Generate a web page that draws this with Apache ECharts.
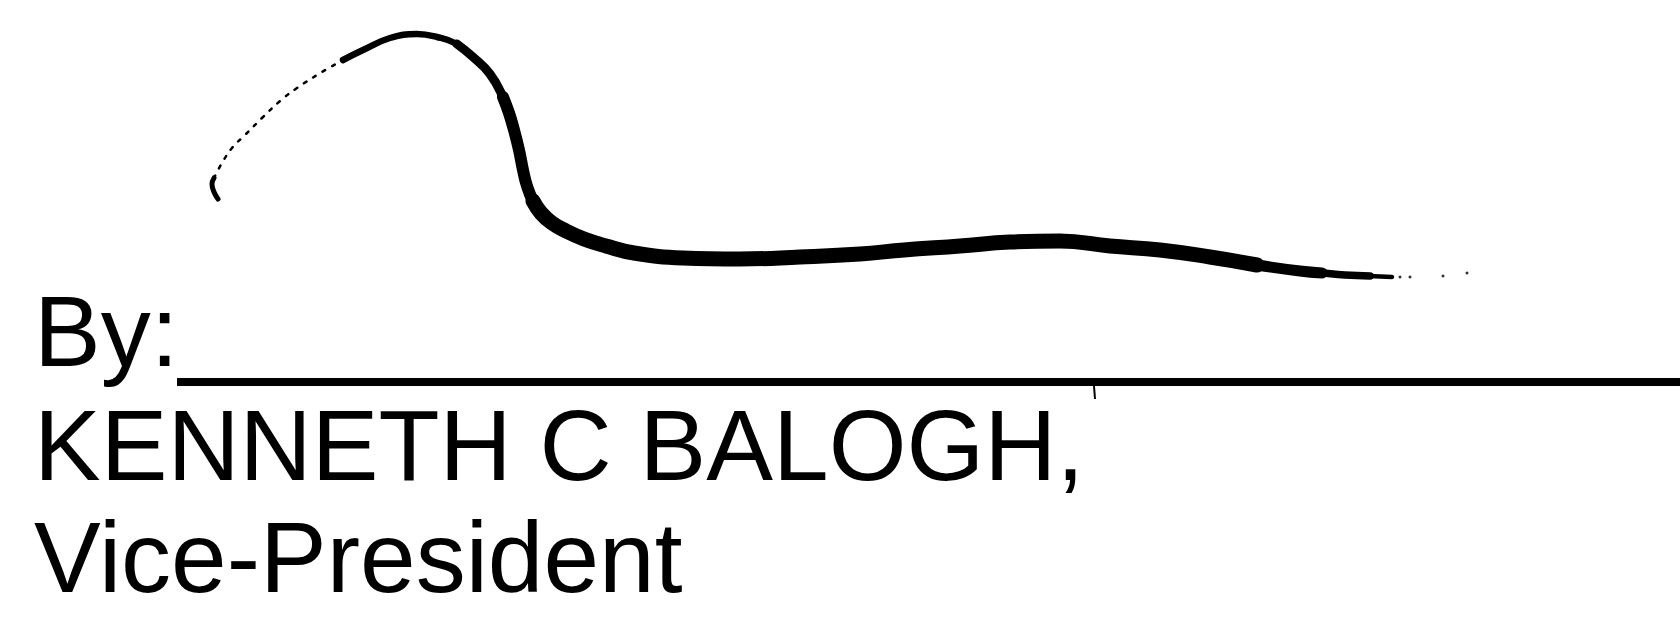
<!DOCTYPE html>
<html>
<head>
<meta charset="utf-8">
<script src="https://cdn.jsdelivr.net/npm/echarts@6/dist/echarts.min.js"></script>
<style>
html,body{margin:0;padding:0;background:#fff;}
#c{width:1680px;height:619px;}
</style>
</head>
<body>
<div id="c"></div>
<script>
// Signature stroke (x, y in page units; y grows downward)
var strokeStartBlob = [[218,199],[214,192],[212,184],[214,178]];
var strokeRise = [[214,178],[222,163],[232,148],[245,135],[263,117],[280,101],[297,88],[322,72],[343,60]];
var strokePeak = [[343,60],[363,50],[390,38],[417,34],[437,37],[457,44],[473,57]];
var strokeShoulder = [[457,44],[473,57],[490,74],[503,97],[509,113]];
var strokeDescent = [[503,97],[509,113],[514,130],[519,150],[523,170],[527,186],[533,201],[541,213]];
var strokeBottom = [[533,201],[541,213],[552,223],[566,231],[584,239],[606,246],[634,253],[683,258],[740,259],[800,257],[860,254],[904,250],[960,246],[1010,242],[1060,241],[1110,246],[1160,250],[1210,257],[1257,265]];
var strokeTaper = [[1210,257],[1257,265],[1300,271],[1322,273]];
var strokeTail = [[1300,271],[1322,273],[1345,275],[1370,276]];
var strokeTailEnd = [[1345,275],[1370,276],[1392,277]];
var strokeSpecks = [[1400,277],[1410,277],[1443,276],[1467,273]];
// Signature rule and its small tick
var ruleLine = [[177,382],[1680,382]];
var ruleTick = [[1094,386],[1095,399]];
// Printed lines
var textLines = ['By:', 'KENNETH C BALOGH,', 'Vice-President'];

var chart = echarts.init(document.getElementById('c'), null, {renderer: 'svg'});

function seg(data, width, type) {
  return {
    type: 'line', data: data, smooth: 0.45, symbol: 'none', silent: true,
    lineStyle: {color: '#000', width: width, cap: 'round', join: 'round', type: type || 'solid'},
    z: 3
  };
}

var textTop = [281, 395, 507];

chart.setOption({
  animation: false,
  backgroundColor: '#ffffff',
  grid: {left: 0, right: 0, top: 0, bottom: 0, containLabel: false},
  xAxis: {type: 'value', min: 0, max: 1680, show: false},
  yAxis: {type: 'value', min: 0, max: 619, inverse: true, show: false},
  graphic: textLines.map(function (t, i) {
    return {
      type: 'text', left: 34, top: textTop[i], silent: true,
      style: {text: t, fill: '#000', font: '100px "Liberation Sans", Arial, sans-serif', lineHeight: 100}
    };
  }),
  series: [
    seg(strokeStartBlob, 5),
    seg(strokeRise, 2.5, [3, 8]),
    seg(strokePeak, 6.5),
    seg(strokeShoulder, 9),
    seg(strokeDescent, 12),
    seg(strokeBottom, 15),
    seg(strokeTaper, 11),
    seg(strokeTail, 7.5),
    seg(strokeTailEnd, 4.5),
    {type: 'scatter', data: strokeSpecks, symbolSize: 3, itemStyle: {color: '#000'}, silent: true},
    {type: 'line', data: ruleLine, symbol: 'none', silent: true, lineStyle: {color: '#000', width: 8}},
    {type: 'line', data: ruleTick, symbol: 'none', silent: true, lineStyle: {color: '#000', width: 2}}
  ]
});
</script>
</body>
</html>
